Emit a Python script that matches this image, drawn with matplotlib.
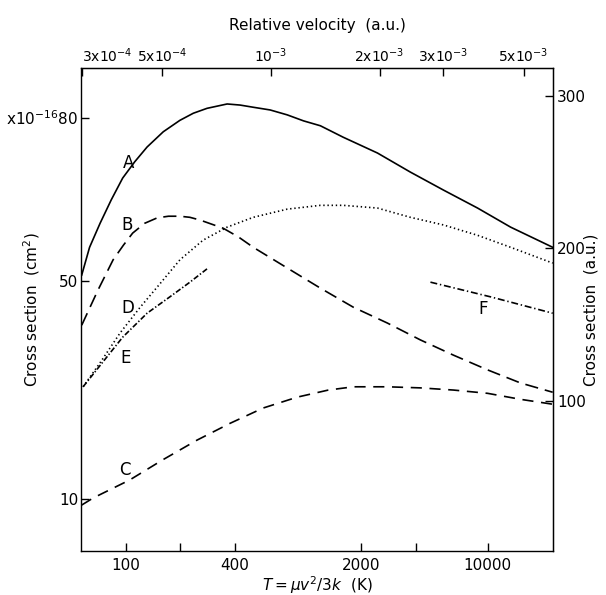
import numpy as np
import matplotlib
matplotlib.use("Agg")
import matplotlib.pyplot as plt
from matplotlib.ticker import NullLocator

# temperature T (K) and cross sections (1e-16 cm^2) for each curve
T_A = [57, 63, 72, 83, 96, 112, 131, 161, 199, 236, 281, 363, 428, 506, 628, 780, 960,
       1190, 1590, 2460, 3740, 5700, 8800, 13400, 22900]
sig_A = [51.1, 56.2, 60.6, 64.9, 68.9, 71.9, 74.6, 77.4, 79.5, 80.8, 81.7, 82.5, 82.3, 81.9, 81.4, 80.5, 79.4,
         78.5, 76.4, 73.5, 70.0, 66.7, 63.4, 59.9, 56.2]

T_B = [57, 70, 85, 97, 109, 127, 149, 172, 199, 226, 257, 345, 419, 506, 780, 1190, 1810,
       2790, 4250, 6480, 10000, 15200, 22900]
sig_B = [41.9, 48.3, 53.9, 56.6, 58.8, 60.6, 61.6, 61.9, 61.9, 61.7, 61.2, 59.7, 58.1, 56.2, 52.4, 48.7, 45.2,
         42.3, 39.2, 36.4, 33.7, 31.3, 29.6]

T_C = [57, 66, 105, 160, 247, 377, 574, 886, 1316, 1810, 2790, 4250, 6480, 10000, 15200, 22900]
sig_C = [8.9, 10.2, 13.5, 17.2, 20.8, 23.9, 26.7, 28.7, 30.0, 30.6, 30.6, 30.4, 30.0, 29.4, 28.3, 27.4]

T_D = [58, 72, 93, 120, 149, 199, 267, 363, 506, 780, 1190, 1590, 2460, 3740, 5700, 8800, 13400, 22900]
sig_D = [30.6, 35.0, 40.5, 45.2, 48.9, 53.9, 57.5, 59.9, 61.7, 63.2, 63.9, 63.9, 63.4, 61.7, 60.3, 58.4, 56.2, 53.3]

T_E = [58, 96, 131, 175, 226, 285]
sig_E = [30.6, 39.7, 44.1, 47.1, 49.8, 52.4]

T_F = [4830, 10400, 22900]
sig_F = [49.8, 47.1, 44.1]

curve_labels = ["A", "B", "C", "D", "E", "F"]
label_T = [103, 101, 99, 103, 99, 9500]
label_sig = [71.7, 60.3, 15.3, 45.0, 35.9, 44.9]

T_ticks = [100, 200, 400, 2000, 4000, 10000]
T_ticklabels = ["100", "", "400", "2000", "", "10000"]
v_ticks = [3e-4, 5e-4, 1e-3, 2e-3, 3e-3, 5e-3]
v_ticklabels = [r"3x10$^{-4}$", r"5x10$^{-4}$", r"10$^{-3}$",
                r"2x10$^{-3}$", r"3x10$^{-3}$", r"5x10$^{-3}$"]
sig_ticks = [10, 50, 80]
sig_ticklabels = ["10", "50", r"x10$^{-16}$80"]
au_ticks = [100, 200, 300]

T_REF = 632.0      # temperature at a relative velocity of 1e-3 a.u.
AU_CM2 = 0.28      # 1 a.u. of area in 1e-16 cm^2

plt.rcParams["font.family"] = "DejaVu Sans"
plt.rcParams["font.size"] = 11
plt.rcParams["mathtext.fontset"] = "dejavusans"
plt.rcParams["lines.scale_dashes"] = False

fig = plt.figure(figsize=(6.06, 5.95), dpi=100)
ax = fig.add_axes([0.1337, 0.0739, 0.7789, 0.8118])

lw = 1.2
ax.plot(T_A, sig_A, color="black", lw=lw, linestyle="-")
ax.plot(T_B, sig_B, color="black", lw=lw, linestyle=(0, (9.5, 5)))
ax.plot(T_C, sig_C, color="black", lw=lw, linestyle=(0, (8, 5.5)))
ax.plot(T_D, sig_D, color="black", lw=lw, linestyle=(0, (1, 2)))
ax.plot(T_E, sig_E, color="black", lw=lw, linestyle=(0, (4, 1.5, 1, 1.5)))
ax.plot(T_F, sig_F, color="black", lw=lw, linestyle=(0, (5, 2, 1, 2)))

for name, tx, sy in zip(curve_labels, label_T, label_sig):
    ax.text(tx, sy, name, ha="center", va="center", fontsize=12)

ax.set_xscale("log")
ax.set_xlim(56.5, 23000)
ax.set_ylim(0.46, 89.1)

ax.set_xticks(T_ticks, labels=T_ticklabels)
ax.xaxis.set_minor_locator(NullLocator())
ax.set_yticks(sig_ticks, labels=sig_ticklabels)
ax.tick_params(direction="in", length=6, width=1)
ax.tick_params(axis="x", pad=5)
ax.tick_params(axis="y", pad=2)
ax.set_xlabel(r"$T = \mu v^2/3k$  (K)", labelpad=1)
ax.set_ylabel("Cross section  (cm$^2$)")
ax.yaxis.set_label_coords(-0.083, 0.5)

# relative velocity on top
top = ax.secondary_xaxis("top", functions=(lambda t: 1e-3 * np.sqrt(np.clip(t, 1e-9, None) / T_REF),
                                           lambda v: T_REF * (v / 1e-3) ** 2))
top.set_xticks(v_ticks, labels=v_ticklabels)
top.xaxis.set_minor_locator(NullLocator())
top.tick_params(direction="in", length=6, width=1, pad=2, labelsize=10)
top.get_xticklabels()[0].set_horizontalalignment("left")
top.set_xlabel("Relative velocity  (a.u.)", labelpad=12)

# atomic units on the right
right = ax.secondary_yaxis("right", functions=(lambda s: s / AU_CM2, lambda a: a * AU_CM2))
right.set_yticks(au_ticks)
right.yaxis.set_minor_locator(NullLocator())
right.tick_params(direction="in", length=6, width=1, pad=3)
right.set_ylabel("Cross section  (a.u.)", labelpad=-2)

for sp in ax.spines.values():
    sp.set_linewidth(1)

fig.savefig("out.png", dpi=100)
